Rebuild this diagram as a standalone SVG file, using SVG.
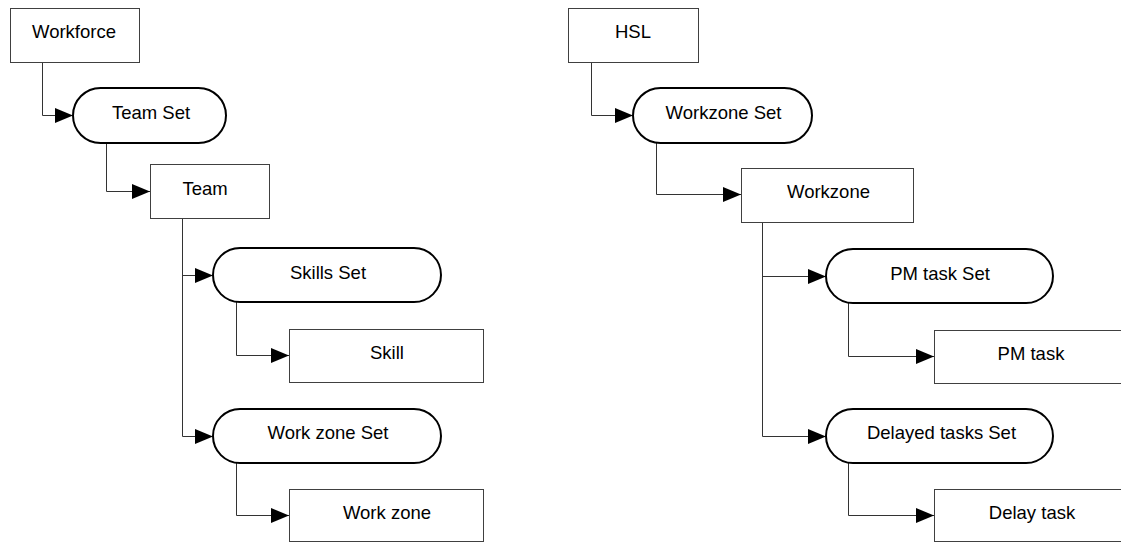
<svg xmlns="http://www.w3.org/2000/svg" width="1121" height="543" viewBox="0 0 1121 543">
  <style>
    .box { fill: #ffffff; stroke: #404040; stroke-width: 1; }
    .pill { fill: #ffffff; stroke: #000000; stroke-width: 2; }
    .lbl { font-family: "Liberation Sans", Arial, sans-serif; font-size: 18.5px; fill: #000000; text-anchor: middle; }
    .edge { fill: none; stroke: #333333; stroke-width: 1; marker-end: url(#arrow); }
  </style>
  <defs>
    <marker id="arrow" markerUnits="userSpaceOnUse" markerWidth="18" markerHeight="16" refX="18" refY="8" orient="auto">
      <path d="M0,0.5 L18,8 L0,15.5 Z" fill="#000000"/>
    </marker>
  </defs>
  <rect width="1121" height="543" fill="#ffffff"/>

  <g id="connectors">
    <!-- left tree -->
    <path class="edge" d="M42.5,62 V115.5 H73"/>
    <path class="edge" d="M106.5,143 V191.5 H150"/>
    <path class="edge" d="M182.5,218 V275.5 H213"/>
    <path class="edge" d="M182.5,275 V436.5 H213"/>
    <path class="edge" d="M236.5,302 V355.5 H289"/>
    <path class="edge" d="M236.5,463 V515.5 H289"/>
    <!-- right tree -->
    <path class="edge" d="M591.5,62 V115.5 H633"/>
    <path class="edge" d="M656.5,143 V194.5 H741"/>
    <path class="edge" d="M762.5,222 V276.5 H826"/>
    <path class="edge" d="M762.5,276 V436.5 H826"/>
    <path class="edge" d="M848.5,303 V356.5 H934"/>
    <path class="edge" d="M848.5,463 V515.5 H934"/>
  </g>

  <g id="workforce">
    <rect class="box" x="10.5" y="8.5" width="129" height="54"/>
    <text class="lbl" x="74" y="38">Workforce</text>
  </g>
  <g id="team-set">
    <rect class="pill" x="73" y="88" width="153" height="55" rx="27.5"/>
    <text class="lbl" x="151" y="119">Team Set</text>
  </g>
  <g id="team">
    <rect class="box" x="150.5" y="164.5" width="119" height="54"/>
    <text class="lbl" x="205" y="195">Team</text>
  </g>
  <g id="skills-set">
    <rect class="pill" x="213" y="248" width="228" height="54" rx="27"/>
    <text class="lbl" x="328" y="278.5">Skills Set</text>
  </g>
  <g id="skill">
    <rect class="box" x="289.5" y="329.5" width="194" height="53"/>
    <text class="lbl" x="387" y="359">Skill</text>
  </g>
  <g id="work-zone-set">
    <rect class="pill" x="213" y="409" width="228" height="54" rx="27"/>
    <text class="lbl" x="328" y="439">Work zone Set</text>
  </g>
  <g id="work-zone">
    <rect class="box" x="289.5" y="489.5" width="194" height="52"/>
    <text class="lbl" x="387" y="518.5">Work zone</text>
  </g>

  <g id="hsl">
    <rect class="box" x="568.5" y="8.5" width="130" height="54"/>
    <text class="lbl" x="633" y="38">HSL</text>
  </g>
  <g id="workzone-set">
    <rect class="pill" x="633" y="88" width="179" height="55" rx="27.5"/>
    <text class="lbl" x="723.5" y="119">Workzone Set</text>
  </g>
  <g id="workzone">
    <rect class="box" x="741.5" y="168.5" width="172" height="54"/>
    <text class="lbl" x="828.5" y="198">Workzone</text>
  </g>
  <g id="pm-task-set">
    <rect class="pill" x="826" y="249" width="227" height="54" rx="27"/>
    <text class="lbl" x="940" y="280">PM task Set</text>
  </g>
  <g id="pm-task">
    <rect class="box" x="934.5" y="330.5" width="194" height="53"/>
    <text class="lbl" x="1031" y="360">PM task</text>
  </g>
  <g id="delayed-tasks-set">
    <rect class="pill" x="826" y="409" width="227" height="54" rx="27"/>
    <text class="lbl" x="941.5" y="439">Delayed tasks Set</text>
  </g>
  <g id="delay-task">
    <rect class="box" x="934.5" y="489.5" width="194" height="52"/>
    <text class="lbl" x="1032" y="519">Delay task</text>
  </g>
</svg>
